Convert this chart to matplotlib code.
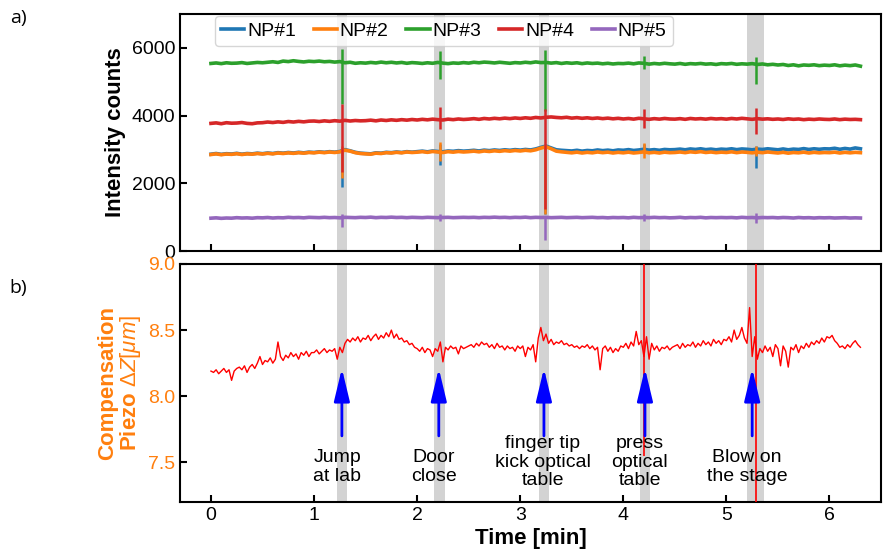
import numpy as np
import matplotlib
matplotlib.use("Agg")
import matplotlib.pyplot as plt

plt.rcParams['font.family'] = ['Liberation Sans', 'DejaVu Sans']
plt.rcParams['mathtext.fontset'] = 'custom'
plt.rcParams['mathtext.rm'] = 'Liberation Sans'
plt.rcParams['mathtext.it'] = 'Liberation Sans:italic'

# ---- data ----
# top panel: intensity counts, sampled every 0.05 min from 0 to 6.3 min
np1 = [2860, 2880, 2855, 2875, 2865, 2885, 2860, 2880, 2870, 2890,
       2875, 2895, 2880, 2905, 2890, 2910, 2895, 2915, 2900, 2920,
       2910, 2930, 2915, 2935, 2920, 2940, 2995, 2960, 2915, 2890,
       2880, 2870, 2900, 2890, 2915, 2905, 2925, 2910, 2935, 2920,
       2935, 2950, 2930, 2955, 2940, 2930, 2955, 2945, 2965, 2950,
       2960, 2975, 2955, 2980, 2965, 2985, 2970, 2990, 2975, 2995,
       2980, 3000, 2985, 3015, 3060, 3100, 3045, 2990, 2975, 2965,
       2955, 2975, 2950, 2970, 2960, 2985, 2965, 2980, 2960, 2985,
       2975, 2995, 2970, 2985, 3005, 2980, 2995, 2975, 3000, 2990,
       2995, 3010, 2990, 3015, 3000, 3020, 2995, 3010, 2990, 3010,
       3000, 3020, 2995, 3015, 3005, 2990, 3010, 3000, 3020, 3005,
       2990, 3015, 2990, 3010, 3000, 3025, 3000, 3020, 3005, 3020,
       3015, 3035, 3005, 3030, 3010, 3045, 3020]
np2 = [2850, 2870, 2845, 2865, 2855, 2875, 2850, 2870, 2860, 2880,
       2865, 2885, 2870, 2895, 2880, 2900, 2885, 2905, 2890, 2910,
       2900, 2920, 2905, 2925, 2910, 2930, 2980, 2950, 2905, 2880,
       2870, 2860, 2890, 2880, 2905, 2895, 2915, 2900, 2925, 2910,
       2920, 2935, 2915, 2940, 2925, 2910, 2935, 2920, 2940, 2925,
       2935, 2950, 2930, 2955, 2940, 2960, 2945, 2965, 2950, 2970,
       2955, 2975, 2960, 2990, 3040, 3080, 3020, 2950, 2930, 2915,
       2900, 2920, 2895, 2915, 2900, 2925, 2905, 2920, 2895, 2915,
       2900, 2920, 2895, 2910, 2930, 2900, 2915, 2895, 2920, 2905,
       2910, 2925, 2905, 2930, 2915, 2935, 2910, 2925, 2905, 2920,
       2910, 2930, 2905, 2925, 2915, 2900, 2920, 2905, 2925, 2910,
       2895, 2915, 2890, 2910, 2900, 2920, 2895, 2915, 2900, 2910,
       2905, 2920, 2895, 2915, 2900, 2915, 2905]
np3 = [5540, 5555, 5535, 5560, 5545, 5550, 5565, 5540, 5555, 5570,
       5560, 5575, 5590, 5570, 5610, 5595, 5620, 5600, 5585, 5605,
       5595, 5610, 5590, 5600, 5580, 5595, 5560, 5575, 5545, 5560,
       5550, 5570, 5555, 5580, 5560, 5575, 5555, 5570, 5545, 5565,
       5555, 5540, 5560, 5545, 5570, 5550, 5535, 5555, 5545, 5565,
       5550, 5575, 5560, 5580, 5570, 5555, 5575, 5560, 5545, 5565,
       5555, 5575, 5560, 5585, 5565, 5570, 5550, 5565, 5540, 5560,
       5545, 5560, 5535, 5555, 5540, 5550, 5530, 5545, 5525, 5540,
       5535, 5550, 5530, 5555, 5545, 5520, 5540, 5525, 5545, 5530,
       5520, 5540, 5515, 5535, 5525, 5540, 5520, 5530, 5510, 5535,
       5525, 5540, 5515, 5530, 5520, 5535, 5510, 5525, 5500, 5515,
       5495, 5510, 5480, 5500, 5470, 5495, 5485, 5500, 5475, 5490,
       5480, 5500, 5470, 5490, 5475, 5495, 5460]
np4 = [3770, 3785, 3760, 3790, 3775, 3780, 3795, 3770, 3760, 3785,
       3790, 3810, 3795, 3815, 3800, 3825, 3810, 3830, 3815, 3835,
       3840, 3825, 3845, 3830, 3850, 3835, 3860, 3840, 3855, 3845,
       3850, 3865, 3845, 3870, 3855, 3875, 3860, 3880, 3865, 3885,
       3870, 3890, 3875, 3895, 3880, 3870, 3895, 3880, 3900, 3885,
       3895, 3910, 3890, 3915, 3900, 3920, 3905, 3925, 3910, 3930,
       3915, 3935, 3920, 3945, 3930, 3950, 3960, 3945, 3935, 3950,
       3925, 3940, 3920, 3935, 3915, 3930, 3910, 3925, 3905, 3920,
       3900, 3915, 3895, 3920, 3905, 3890, 3910, 3895, 3915, 3900,
       3895, 3910, 3890, 3915, 3900, 3910, 3895, 3915, 3900, 3910,
       3895, 3915, 3900, 3920, 3905, 3890, 3910, 3895, 3905, 3890,
       3900, 3885, 3905, 3890, 3900, 3880, 3895, 3885, 3900, 3890,
       3885, 3900, 3880, 3895, 3885, 3890, 3880]
np5 = [970, 980, 965, 975, 970, 985, 975, 980, 970, 985,
       980, 990, 975, 985, 980, 995, 985, 990, 980, 995,
       990, 985, 995, 985, 990, 980, 995, 990, 985, 995,
       990, 1000, 985, 995, 990, 1000, 990, 995, 985, 995,
       990, 985, 995, 990, 985, 990, 995, 985, 990, 995,
       990, 995, 985, 995, 990, 1000, 990, 995, 985, 995,
       990, 1000, 985, 995, 990, 995, 985, 990, 995, 985,
       990, 995, 985, 990, 995, 985, 990, 980, 990, 985,
       990, 980, 995, 985, 990, 985, 995, 985, 990, 980,
       985, 995, 980, 990, 985, 995, 980, 990, 985, 990,
       985, 990, 980, 995, 985, 990, 980, 990, 985, 990,
       980, 990, 985, 975, 990, 980, 985, 975, 985, 980,
       985, 975, 980, 985, 975, 980, 975]

series_names = ['NP#1', 'NP#2', 'NP#3', 'NP#4', 'NP#5']
series_colors = ['#1f77b4', '#ff7f0e', '#2ca02c', '#d62728', '#9467bd']

# disturbance events (min) and the spike extent of each trace at each event
event_t = [1.27, 2.22, 3.24, 4.20, 5.29]
spike_lo = [[1880, 2540, 1085, 2900, 2465],
            [2170, 2660, 1085, 2760, 2810],
            [4330, 5070, 4130, 5370, 4925],
            [2320, 3600, 1230, 3645, 3450],
            [700, 890, 320, 890, 840]]
spike_hi = [[3050, 3150, 3100, 3150, 3100],
            [3100, 3210, 3100, 3200, 3100],
            [5960, 5910, 5940, 5760, 5740],
            [4340, 4245, 4190, 4190, 4210],
            [1090, 1085, 1040, 1085, 1135]]

# shaded event windows (min)
band_start = [1.22, 2.16, 3.18, 4.16, 5.20]
band_end = [1.32, 2.27, 3.28, 4.26, 5.36]

# bottom panel: piezo compensation dZ [um], every 0.025 min from 0 to 6.3 min
piezo_dz = [8.19, 8.18, 8.20, 8.17, 8.19, 8.21, 8.18, 8.20, 8.12, 8.19, 8.21, 8.22, 8.20, 8.23, 8.18, 8.22, 8.24, 8.21, 8.25, 8.30,
            8.24, 8.27, 8.26, 8.29, 8.25, 8.28, 8.41, 8.30, 8.27, 8.31, 8.29, 8.33, 8.30, 8.32, 8.28, 8.33, 8.31, 8.34, 8.30, 8.33,
            8.33, 8.35, 8.32, 8.34, 8.36, 8.33, 8.35, 8.34, 8.36, 8.28, 8.37, 8.33, 8.40, 8.43, 8.41, 8.44, 8.42, 8.45, 8.41, 8.44,
            8.43, 8.46, 8.42, 8.45, 8.47, 8.43, 8.46, 8.44, 8.48, 8.45, 8.50, 8.44, 8.47, 8.43, 8.44, 8.41, 8.42, 8.39, 8.40, 8.37,
            8.36, 8.34, 8.37, 8.33, 8.36, 8.35, 8.30, 8.36, 8.34, 8.41, 8.26, 8.37, 8.35, 8.38, 8.36, 8.37, 8.32, 8.38, 8.36, 8.37,
            8.38, 8.39, 8.37, 8.40, 8.38, 8.41, 8.39, 8.40, 8.37, 8.39, 8.36, 8.40, 8.37, 8.38, 8.35, 8.38, 8.36, 8.37, 8.34, 8.38,
            8.36, 8.38, 8.30, 8.37, 8.35, 8.39, 8.26, 8.44, 8.52, 8.42, 8.47, 8.40, 8.43, 8.39, 8.41, 8.40, 8.42, 8.39, 8.40, 8.38,
            8.39, 8.37, 8.38, 8.36, 8.38, 8.37, 8.39, 8.36, 8.38, 8.35, 8.37, 8.20, 8.36, 8.38, 8.34, 8.37, 8.33, 8.36, 8.34, 8.38,
            8.37, 8.40, 8.36, 8.41, 8.38, 8.49, 8.39, 8.42, 8.30, 8.45, 8.28, 8.40, 8.35, 8.38, 8.34, 8.37, 8.36, 8.38, 8.35, 8.37,
            8.38, 8.39, 8.36, 8.40, 8.37, 8.39, 8.38, 8.41, 8.37, 8.40, 8.38, 8.42, 8.39, 8.41, 8.38, 8.43, 8.40, 8.42, 8.39, 8.43,
            8.42, 8.45, 8.41, 8.50, 8.43, 8.46, 8.52, 8.44, 8.40, 8.67, 8.30, 8.45, 8.28, 8.36, 8.33, 8.38, 8.34, 8.37, 8.30, 8.39,
            8.36, 8.23, 8.38, 8.34, 8.22, 8.37, 8.35, 8.39, 8.33, 8.38, 8.36, 8.40, 8.37, 8.41, 8.39, 8.42, 8.40, 8.44, 8.41, 8.45,
            8.44, 8.46, 8.42, 8.40, 8.37, 8.38, 8.36, 8.39, 8.37, 8.40, 8.42, 8.39, 8.37]
# the two big piezo excursions
piezo_spike_t = [4.205, 5.29]
piezo_spike_lo = [7.55, 7.0]
piezo_spike_hi = [9.3, 9.3]

# annotations
arrow_t = [1.27, 2.21, 3.23, 4.21, 5.25]
event_text = ['Jump\nat lab', 'Door\nclose', 'finger tip\nkick optical\ntable',
              'press\noptical\ntable', 'Blow on\nthe stage']
text_t = [1.225, 2.16, 3.22, 4.16, 5.20]
text_top = [7.60, 7.60, 7.71, 7.71, 7.60]

orange = '#ff7f0e'

t_np = np.linspace(0, 6.3, len(np1))
t_pz = np.linspace(0, 6.3, len(piezo_dz))

fig = plt.figure(figsize=(8.86, 5.5), dpi=100)
ax1 = fig.add_axes([0.2032, 0.5436, 0.7912, 0.4309])
ax2 = fig.add_axes([0.2032, 0.0873, 0.7912, 0.4327], sharex=ax1)

for ax in (ax1, ax2):
    for s, e in zip(band_start, band_end):
        ax.axvspan(s, e, color='#d3d3d3', lw=0, zorder=0)

all_np = [np1, np2, np3, np4, np5]
for i in range(5):
    ax1.plot(t_np, all_np[i], color=series_colors[i], lw=2.6, label=series_names[i], zorder=2 + i)
    ax1.vlines(event_t, spike_lo[i], spike_hi[i], color=series_colors[i], lw=1.8, zorder=2 + i)

ax1.set_ylim(0, 7000)
ax1.set_yticks([0, 2000, 4000, 6000])
ax1.set_ylabel('Intensity counts', fontsize=16, fontweight='bold')
ax1.yaxis.set_label_coords(-0.077, 0.5)
ax1.tick_params(labelbottom=False)
leg = ax1.legend(ncol=5, loc='upper left', bbox_to_anchor=(0.05, 0.99), borderaxespad=0,
                 fontsize=14, handlelength=1.2, handletextpad=0.15, columnspacing=0.9,
                 borderpad=0.3, framealpha=0.8)
leg.set_zorder(20)

ax2.plot(t_pz, piezo_dz, color='red', lw=1.0, zorder=3)
ax2.vlines(piezo_spike_t, piezo_spike_lo, piezo_spike_hi, color='red', lw=1.2, zorder=3)
for xa in arrow_t:
    ax2.annotate('', xy=(xa, 8.21), xytext=(xa, 7.70),
                 arrowprops=dict(arrowstyle='-|>,head_length=1.0,head_width=0.24',
                                 color='blue', lw=2, mutation_scale=20,
                                 shrinkA=0, shrinkB=0), zorder=4)
for xt, yt, s in zip(text_t, text_top, event_text):
    ax2.text(xt, yt, s, ha='center', va='top', fontsize=14, linespacing=1.15, zorder=5)

ax2.set_ylim(7.2, 9.0)
ax2.set_yticks([7.5, 8.0, 8.5, 9.0])
ax2.set_xlim(-0.3, 6.5)
ax2.set_xticks([0, 1, 2, 3, 4, 5, 6])
ax2.set_xlabel('Time [min]', fontsize=16, fontweight='bold', labelpad=3)
ax2.set_ylabel('Compensation\nPiezo $\\Delta Z[\\mu m]$', fontsize=16, fontweight='bold',
               color=orange, linespacing=1.0)
ax2.yaxis.set_label_coords(-0.053, 0.5)
ax2.tick_params(axis='y', labelcolor=orange)

for ax in (ax1, ax2):
    ax.tick_params(direction='in', labelsize=14, width=1.5, length=5)
    for sp in ax.spines.values():
        sp.set_linewidth(1.5)

fig.text(0.011, 0.967, 'a)', fontsize=14, family='Open Sans', va='center')
fig.text(0.011, 0.476, 'b)', fontsize=14, family='Open Sans', va='center')

fig.savefig('out.png', dpi=100)
